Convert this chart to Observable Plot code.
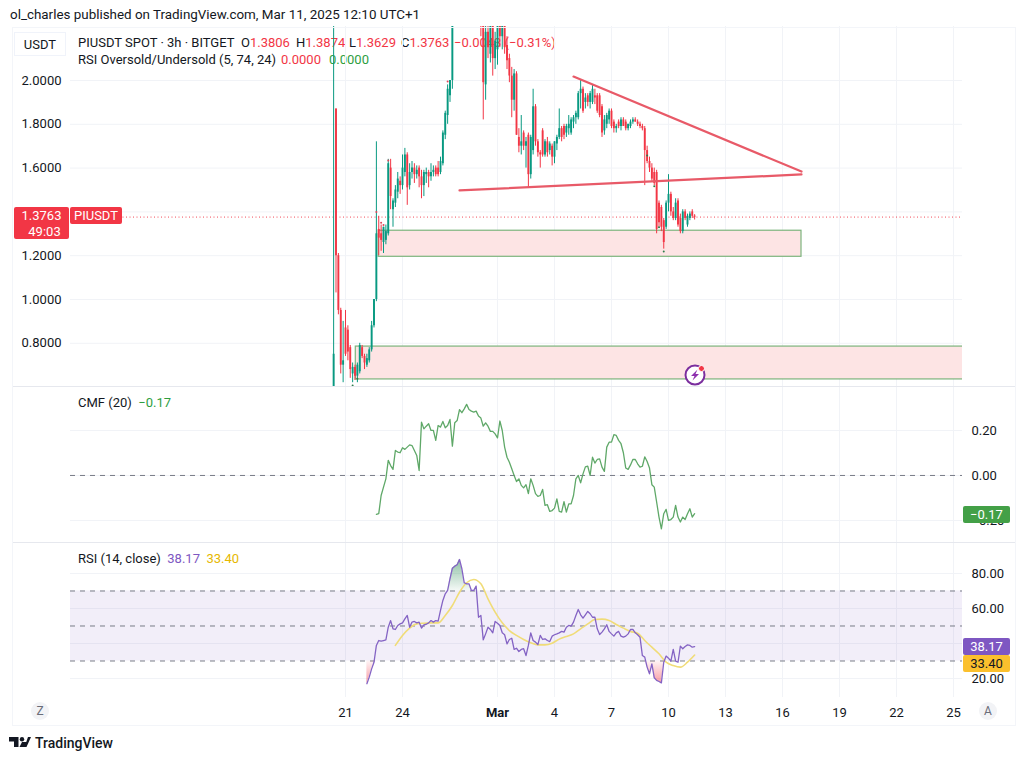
<!DOCTYPE html>
<html>
<head>
<meta charset="utf-8">
<script src="https://cdn.jsdelivr.net/npm/d3@7"></script>
<script src="https://cdn.jsdelivr.net/npm/@observablehq/plot@0.6"></script>
<style>
  html, body { margin: 0; background: #fff; }
  #page { position: relative; width: 1024px; height: 760px; overflow: hidden; font-family: Roboto, "Noto Sans", sans-serif; color: #131722; font-size: 13px; }
  .txt { position: absolute; white-space: pre; line-height: 16px; }
  .box { position: absolute; border-radius: 2px; color: #fff; text-align: center; }
  .sep { position: absolute; background: #e6e8ee; }
  .edge { position: absolute; background: #f3f5f9; }
  .red { color: #f23645; }
  .green { color: #2e9e3f; }
</style>
</head>
<body>
<div id="page"></div>
<script>
// Candles, 3h each, first one opens Feb 20 09:00
var firstCandle = Date.UTC(2025, 1, 20, 9);
var candleStep = 3 * 3600 * 1000;

var opens = [
  .60,1.87,1.20,.95,.70,.87,.86,.78,.66,.69,
  .65,.67,.78,.74,.70,.72,.77,.88,1.00,1.32,
  1.30,1.26,1.27,1.30,1.60,1.41,1.44,1.49,1.54,1.52,
  1.58,1.66,1.52,1.58,1.60,1.57,1.60,1.56,1.52,1.57,
  1.58,1.56,1.58,1.60,1.60,1.58,1.62,1.75,1.84,1.93,
  2.00,2.30,2.45,2.60,2.75,2.85,2.80,2.70,2.72,2.55,
  2.60,2.40,2.50,2.30,1.98,2.22,2.12,2.25,2.10,2.14,
  2.26,2.20,2.30,2.16,2.10,2.02,1.91,2.03,1.74,1.70,
  1.76,1.70,1.75,1.57,1.68,1.88,1.72,1.67,1.77,1.66,
  1.72,1.68,1.70,1.65,1.71,1.74,1.78,1.79,1.76,1.78,
  1.76,1.81,1.83,1.83,1.94,1.96,1.90,1.93,1.90,1.90,
  1.93,1.93,1.93,1.88,1.77,1.80,1.82,1.86,1.81,1.78,
  1.81,1.79,1.82,1.81,1.78,1.79,1.81,1.82,1.81,1.80,
  1.79,1.78,1.68,1.63,1.60,1.58,1.58,1.44,1.42,1.36,
  1.33,1.44,1.48,1.40,1.37,1.45,1.37,1.31,1.40,1.34,
  1.37,1.40,1.3806
];
var highs = [
  3.10,1.87,1.21,.96,.90,.95,.88,.79,.71,.70,
  .71,.80,.79,.75,.75,.78,.90,1.00,1.72,1.38,
  1.34,1.33,1.34,1.64,1.64,1.46,1.52,1.58,1.56,1.66,
  1.69,1.67,1.62,1.63,1.62,1.61,1.61,1.59,1.59,1.60,
  1.59,1.62,1.61,1.61,1.63,1.65,1.77,1.86,1.98,2.00,
  2.40,2.50,2.65,2.80,2.95,2.98,2.90,2.85,2.80,2.70,
  2.65,2.55,2.55,2.35,2.25,2.30,2.30,2.30,2.22,2.30,
  2.35,2.35,2.32,2.20,2.12,2.06,2.05,2.04,1.78,1.84,
  1.77,1.74,1.76,1.75,1.96,1.89,1.73,1.68,1.78,1.73,
  1.74,1.72,1.71,1.72,1.75,1.87,1.79,1.80,1.80,1.84,
  1.83,1.84,1.86,1.95,2.00,1.97,1.94,1.94,1.95,1.98,
  1.96,1.94,1.94,1.89,1.84,1.85,1.87,1.87,1.82,1.80,
  1.82,1.83,1.83,1.82,1.80,1.82,1.83,1.83,1.82,1.81,
  1.80,1.79,1.70,1.65,1.62,1.60,1.59,1.45,1.43,1.37,
  1.45,1.57,1.49,1.42,1.46,1.46,1.39,1.41,1.41,1.39,
  1.40,1.41,1.3874
];
var lows = [
  .60,1.03,.93,.66,.62,.74,.72,.64,.62,.63,
  .62,.66,.73,.68,.69,.71,.76,.87,.99,1.20,
  1.22,1.21,1.25,1.29,1.41,1.33,1.42,1.46,1.48,1.50,
  1.56,1.43,1.50,1.55,1.53,1.55,1.51,1.46,1.47,1.53,
  1.51,1.54,1.56,1.56,1.56,1.57,1.61,1.73,1.80,1.90,
  1.96,2.25,2.40,2.55,2.70,2.75,2.65,2.60,2.50,2.45,
  2.35,2.30,2.20,1.82,1.91,2.10,2.08,2.02,2.05,2.07,
  2.15,2.14,2.12,2.05,1.99,1.83,1.86,1.75,1.67,1.66,
  1.68,1.60,1.51,1.55,1.66,1.70,1.65,1.60,1.65,1.65,
  1.65,1.66,1.61,1.62,1.68,1.73,1.72,1.73,1.74,1.75,
  1.75,1.78,1.80,1.82,1.87,1.85,1.87,1.88,1.87,1.89,
  1.89,1.85,1.83,1.74,1.75,1.78,1.80,1.78,1.76,1.76,
  1.78,1.77,1.79,1.77,1.77,1.78,1.80,1.81,1.79,1.78,
  1.77,1.52,1.62,1.58,1.54,1.52,1.30,1.33,1.31,1.23,
  1.32,1.40,1.38,1.36,1.36,1.33,1.30,1.30,1.36,1.33,
  1.36,1.37,1.3629
];
var closes = [
  .75,1.20,.95,.70,.72,.75,.76,.68,.69,.65,
  .70,.79,.74,.71,.73,.77,.88,1.00,1.30,1.28,
  1.27,1.33,1.31,1.62,1.47,1.45,1.50,1.55,1.52,1.60,
  1.66,1.51,1.58,1.60,1.57,1.59,1.56,1.52,1.58,1.58,
  1.56,1.58,1.59,1.57,1.57,1.63,1.76,1.85,1.96,2.00,
  2.30,2.45,2.60,2.75,2.85,2.80,2.70,2.72,2.55,2.60,
  2.40,2.50,2.30,1.99,2.22,2.15,2.25,2.10,2.18,2.26,
  2.20,2.30,2.15,2.09,2.02,1.91,2.03,1.75,1.70,1.72,
  1.70,1.72,1.57,1.74,1.88,1.72,1.67,1.66,1.66,1.72,
  1.67,1.71,1.65,1.72,1.74,1.78,1.74,1.75,1.79,1.80,
  1.82,1.83,1.85,1.94,1.96,1.86,1.92,1.90,1.94,1.96,
  1.92,1.86,1.84,1.76,1.82,1.84,1.86,1.79,1.78,1.79,
  1.79,1.82,1.79,1.78,1.80,1.81,1.82,1.81,1.80,1.79,
  1.78,1.68,1.63,1.60,1.55,1.53,1.32,1.35,1.33,1.26,
  1.44,1.48,1.40,1.37,1.44,1.34,1.31,1.40,1.37,1.38,
  1.39,1.38,1.3763
];

// RSI Oversold/Undersold markers: candle index and price
var redMarkIdx = [18, 20, 21, 23, 48];
var redMarkPrice = [1.40, 1.35, 1.34, 1.635, 1.995];
var greenMarkIdx = [8, 10, 132, 135, 137, 139];
var greenMarkPrice = [.607, .638, 1.658, 1.517, 1.33, 1.219];

// CMF(20), last value sits on the last candle
var cmfValues = [
  -.173,-.170,-.089,-.052,-.015,.067,.044,.027,.111,.104,.101,.123,.116,.126,.136,.133,.111,.089,.022,
  .237,.207,.219,.230,.200,.200,.156,.222,.215,.240,.212,.222,.249,.130,.234,.244,.293,.279,.296,.316,
  .293,.286,.282,.286,.264,.255,.219,.234,.219,.196,.196,.185,.167,.242,.200,.126,.081,.059,.030,.000,
  -.027,-.015,-.044,-.055,-.041,-.081,-.015,-.044,-.081,-.093,-.089,-.062,-.133,-.130,-.160,-.156,-.145,-.104,-.160,-.163,
  -.116,-.163,-.126,-.126,-.089,-.015,.000,-.033,.007,.038,.041,.000,.081,.055,.071,.074,.037,.018,.126,.148,
  .148,.181,.178,.156,.141,.101,.033,.027,.047,.071,.071,.052,.037,.041,.083,.062,.033,-.041,-.052,-.118,
  -.185,-.237,-.170,-.151,-.200,-.196,-.185,-.133,-.185,-.207,-.185,-.196,-.170,-.148,-.185,-.17
];

// RSI(14), last value sits on the last candle
var rsiValues = [
  17.0,20.8,25.5,29.3,38.9,41.7,41.3,41.7,42.1,49.3,53.1,48.4,48.0,50.3,51.2,51.8,54.1,56.0,49.3,52.2,
  52.6,51.8,52.2,48.8,50.7,51.0,51.8,53.1,52.2,53.1,52.8,58.9,64.6,68.4,70.3,77.0,83.0,84.2,85.0,
  88.0,82.7,74.7,74.1,74.1,70.3,70.3,72.8,55.0,56.0,42.1,45.5,49.3,48.0,46.1,52.6,51.6,50.3,
  46.1,45.0,39.8,42.3,43.0,36.6,37.3,35.4,36.6,37.0,33.1,38.9,46.1,41.7,40.8,39.4,44.6,42.3,42.7,41.7,
  41.1,44.2,45.0,45.5,46.1,46.9,46.5,49.3,50.3,49.9,52.2,56.0,59.4,56.4,54.5,56.4,58.3,57.0,55.0,
  55.0,48.4,45.1,46.5,48.4,50.7,46.9,45.5,44.2,46.1,46.9,44.2,43.6,44.2,45.5,48.0,48.0,46.1,45.0,43.6,
  33.1,32.2,26.5,22.7,28.4,20.4,18.9,18.3,17.5,29.3,32.8,31.6,29.9,36.6,29.9,29.3,38.5,37.0,38.3,39.2,
  38.9,37.9,38.17
];

// RSI-based MA, read every third candle from candle 26 on
var rsiMaFirstIdx = 26;
var rsiMaStep = 3;
var rsiMaValues = [
  38.9,44.6,48.8,51.2,51.6,51.8,51.8,56.0,61.7,69.3,74.7,76.6,74.1,65.5,57.9,51.8,47.4,44.6,42.3,40.4,39.2,39.2,
  40.2,42.5,44.0,45.5,48.4,51.2,53.7,53.9,53.1,50.9,48.8,46.9,45.9,41.7,37.9,34.1,29.3,27.4,26.5,29.3,33.4
];

// Axis ticks
var priceTicks = [2.0, 1.8, 1.6, 1.4, 1.2, 1.0, 0.8];
var cmfTicks = [0.2, 0, -0.2];
var rsiTicks = [80, 60, 40, 20];
var rsiLevels = [70, 50, 30];
var timeTicks = [[1, 21], [1, 24], [2, 1], [2, 4], [2, 7], [2, 10], [2, 13], [2, 16], [2, 19], [2, 22], [2, 25]];
var timeLabels = ["21", "24", "Mar", "4", "7", "10", "13", "16", "19", "22", "25"];

// Drawings on the price panel
var lastPrice = 1.3763;
var zoneStart = [[1, 22, 18], [1, 21, 13]];
var zoneEnd = [[2, 17, 0], [3, 30, 0]];
var zoneTop = [1.314, 0.785];
var zoneBottom = [1.195, 0.635];
var resistanceDays = [[2, 5], [2, 17]];
var resistancePrices = [2.018, 1.584];
var supportDays = [[1, 27], [2, 17]];
var supportPrices = [1.498, 1.571];

var FRAME_L = 70, FRAME_R = 62;
var GRID = "#f1f3f7";
var FONT = 'Roboto, "Noto Sans", sans-serif';
var GREEN = "#089981", RED = "#f23645";

function utc(parts) {
  return new Date(Date.UTC(2025, parts[0], parts[1], parts[2] || 0));
}
function candleDate(i) {
  return new Date(firstCandle + i * candleStep);
}

var tickDates = timeTicks.map(utc);
var xScale = {
  domain: [utc([1, 21]), utc([2, 25])],
  range: [345, 953],
  axis: null
};

function basePlot(height, marginBottom, yDomain, marks) {
  return Plot.plot({
    width: 1024,
    height: height,
    marginLeft: FRAME_L,
    marginRight: FRAME_R,
    marginTop: 0,
    marginBottom: marginBottom,
    x: xScale,
    y: { domain: yDomain, axis: null },
    style: { background: "transparent", fontFamily: FONT, fontSize: "13px", color: "#131722", overflow: "visible" },
    marks: marks
  });
}

var candles = d3.range(opens.length).map(function(i) {
  return { date: candleDate(i), o: opens[i], h: highs[i], l: lows[i], c: closes[i], up: closes[i] >= opens[i] };
});
function candleColor(d) { return d.up ? GREEN : RED; }

var zones = zoneTop.map(function(t, i) {
  return { x1: utc(zoneStart[i]), x2: utc(zoneEnd[i]), y1: zoneBottom[i], y2: t };
});
var resistance = resistanceDays.map(function(d, i) { return { x: utc(d), y: resistancePrices[i] }; });
var support = supportDays.map(function(d, i) { return { x: utc(d), y: supportPrices[i] }; });
var redMarks = redMarkIdx.map(function(k, i) { return { x: candleDate(k), y: redMarkPrice[i] }; });
var greenMarks = greenMarkIdx.map(function(k, i) { return { x: candleDate(k), y: greenMarkPrice[i] }; });

var pricePlot = basePlot(360, 0, [0.6027, 2.2466], [
  Plot.gridY(priceTicks, { stroke: GRID, strokeOpacity: 1 }),
  Plot.gridX(tickDates, { stroke: GRID, strokeOpacity: 1 }),
  Plot.rect(zones, { x1: "x1", x2: "x2", y1: "y1", y2: "y2", fill: "#fde4e4", stroke: "#7db47d", strokeWidth: 1.2, clip: true }),
  Plot.ruleY([lastPrice], { stroke: RED, strokeDasharray: "1,2.5", strokeOpacity: 0.9 }),
  Plot.ruleX(candles, { x: "date", y1: "l", y2: "h", stroke: candleColor, strokeWidth: 1, clip: true }),
  Plot.ruleX(candles, { x: "date", y1: "o", y2: "c", stroke: candleColor, strokeWidth: 1.9, clip: true }),
  Plot.dot(redMarks, { x: "x", y: "y", r: 1, fill: "#e0455a" }),
  Plot.dot(greenMarks, { x: "x", y: "y", r: 1, fill: "#2e7d4a" }),
  Plot.line(resistance, { x: "x", y: "y", stroke: "#e85a68", strokeWidth: 2.2 }),
  Plot.line(support, { x: "x", y: "y", stroke: "#e85a68", strokeWidth: 2.2 }),
  Plot.axisY(priceTicks, { anchor: "left", tickSize: 0, tickPadding: 9, label: null, tickFormat: function(d) { return d.toFixed(4); } })
]);

var cmfOffset = opens.length - cmfValues.length;
var cmfData = cmfValues.map(function(v, i) { return { x: candleDate(i + cmfOffset), y: v }; });

var cmfPlot = basePlot(155, 0, [-0.298, 0.391], [
  Plot.gridY(cmfTicks, { stroke: GRID, strokeOpacity: 1 }),
  Plot.gridX(tickDates, { stroke: GRID, strokeOpacity: 1 }),
  Plot.ruleY([0], { stroke: "#787b86", strokeDasharray: "5,5", strokeWidth: 1 }),
  Plot.line(cmfData, { x: "x", y: "y", stroke: "#5fa868", strokeWidth: 1.3 }),
  Plot.axisY(cmfTicks, { anchor: "right", tickSize: 0, tickPadding: 9, label: null, tickFormat: function(d) { return d.toFixed(2).replace("-", "\u2212"); } })
]);

var rsiOffset = opens.length - rsiValues.length;
var rsiData = rsiValues.map(function(v, i) { return { x: candleDate(i + rsiOffset), y: v }; });
var rsiMa = rsiMaValues.map(function(v, i) { return { x: candleDate(rsiMaFirstIdx + i * rsiMaStep), y: v }; });

function gradientDefs() {
  var defs = d3.create("svg:defs");
  var up = defs.append("linearGradient").attr("id", "rsi-up").attr("x1", 0).attr("x2", 0).attr("y1", 0).attr("y2", 1);
  up.append("stop").attr("offset", 0).attr("stop-color", "#2e8b57").attr("stop-opacity", 0.55);
  up.append("stop").attr("offset", 1).attr("stop-color", "#2e8b57").attr("stop-opacity", 0.05);
  var down = defs.append("linearGradient").attr("id", "rsi-down").attr("x1", 0).attr("x2", 0).attr("y1", 0).attr("y2", 1);
  down.append("stop").attr("offset", 0).attr("stop-color", "#f23645").attr("stop-opacity", 0.05);
  down.append("stop").attr("offset", 1).attr("stop-color", "#f23645").attr("stop-opacity", 0.5);
  return defs.node();
}

var rsiPlot = basePlot(182, 28, [9.14, 97.14], [
  gradientDefs,
  Plot.gridY(rsiTicks, { stroke: GRID, strokeOpacity: 1 }),
  Plot.gridX(tickDates, { stroke: GRID, strokeOpacity: 1 }),
  Plot.rect([{ x1: utc([0, 1]), x2: utc([5, 1]), y1: rsiLevels[2], y2: rsiLevels[0] }], { x1: "x1", x2: "x2", y1: "y1", y2: "y2", fill: "#7e57c2", fillOpacity: 0.1, clip: true }),
  Plot.ruleY(rsiLevels, { stroke: "#787b86", strokeDasharray: "5,5", strokeWidth: 1 }),
  Plot.areaY(rsiData, { x: "x", y1: rsiLevels[0], y2: function(d) { return Math.max(d.y, rsiLevels[0]); }, fill: "url(#rsi-up)" }),
  Plot.areaY(rsiData, { x: "x", y1: rsiLevels[2], y2: function(d) { return Math.min(d.y, rsiLevels[2]); }, fill: "url(#rsi-down)" }),
  Plot.line(rsiMa, { x: "x", y: "y", stroke: "#f0dc78", strokeWidth: 1.6, curve: "monotone-x" }),
  Plot.line(rsiData, { x: "x", y: "y", stroke: "#8463c4", strokeWidth: 1.3 }),
  Plot.axisY(rsiTicks, { anchor: "right", tickSize: 0, tickPadding: 9, label: null, tickFormat: function(d) { return d.toFixed(2); } }),
  Plot.axisX(tickDates.filter(function(d, i) { return timeLabels[i] !== "Mar"; }), {
    anchor: "bottom", tickSize: 0, tickPadding: 10, label: null,
    tickFormat: function(d) { return timeLabels[tickDates.findIndex(function(t) { return +t === +d; })]; }
  }),
  Plot.axisX(tickDates.filter(function(d, i) { return timeLabels[i] === "Mar"; }), {
    anchor: "bottom", tickSize: 0, tickPadding: 10, label: null, fontWeight: 700,
    tickFormat: function() { return "Mar"; }
  })
]);

var page = document.getElementById("page");

function addText(html, left, top, style) {
  var el = document.createElement("div");
  el.className = "txt";
  el.innerHTML = html;
  el.style.left = left + "px";
  el.style.top = top + "px";
  if (style) el.style.cssText += style;
  page.appendChild(el);
  return el;
}
function addBox(text, left, top, width, height, bg, color) {
  var el = document.createElement("div");
  el.className = "box";
  el.innerHTML = text;
  el.style.cssText += "left:" + left + "px;top:" + top + "px;width:" + width + "px;height:" + height + "px;line-height:" + height + "px;background:" + bg + ";color:" + (color || "#fff");
  page.appendChild(el);
  return el;
}
function addLine(cls, left, top, width, height) {
  var el = document.createElement("div");
  el.className = cls;
  el.style.cssText += "left:" + left + "px;top:" + top + "px;width:" + width + "px;height:" + height + "px";
  page.appendChild(el);
}

addText("ol_charles published on TradingView.com, Mar 11, 2025 12:10 UTC+1", 10, 7, "font-size:13.4px;");

// Legends go under the plots so the candles cross them
addText("PIUSDT SPOT \u00b7 3h \u00b7 BITGET", 78, 35);
addText('O<span class="red">1.3806</span>', 241, 35);
addText('H<span class="red">1.3874</span>', 296, 35);
addText('L<span class="red">1.3629</span>', 349, 35);
addText('C<span class="red">1.3763</span>', 401, 35);
addText('<span class="red">\u22120.0043 (\u22120.31%)</span>', 454, 35);
addText("RSI Oversold/Undersold (5, 74, 24)", 78, 52);
addText('<span class="red">0.0000</span>', 281, 52);
addText('<span class="green">0.0000</span>', 329, 52);

function place(svg, top) {
  svg.style.position = "absolute";
  svg.style.left = "0px";
  svg.style.top = top + "px";
  page.appendChild(svg);
}
place(pricePlot, 26);
place(cmfPlot, 387);
place(rsiPlot, 543);

addLine("sep", 12, 386, 1003, 1);
addLine("sep", 12, 542, 1003, 1);
addLine("edge", 12, 725, 1003, 1);
addLine("edge", 12, 27, 1003, 1);
addLine("edge", 12, 27, 1, 699);
addLine("edge", 1015, 27, 1, 699);

// USDT scale button
addText("USDT", 14, 32, "width:52px;height:24px;line-height:24px;text-align:center;background:#fff;border:1px solid #f0f3fa;box-sizing:border-box;");

addText('CMF (20)  <span class="green">\u22120.17</span>', 78, 395);
addText('RSI (14, close)  <span style="color:#7e57c2">38.17</span>  <span style="color:#e6b800">33.40</span>', 78, 551);

// Last price labels
addBox('<div style="line-height:16px;padding-top:1px">1.3763<br><span style="padding-left:6px">49:03</span></div>', 14, 207, 55, 32, RED);
addBox("PIUSDT", 70, 207, 52, 17, RED);
addBox("\u22120.17", 963, 506, 47, 17, "#43a047");
addBox("38.17", 963, 638, 47, 17, "#7e57c2");
addBox("33.40", 963, 655, 47, 17, "#fbc02d", "#131722");

// Round buttons in the time axis row
[["Z", 31], ["A", 979]].forEach(function(b) {
  var el = addBox(b[0], b[1], 702, 18, 18, "#f2f3f6", "#6a6d78");
  el.style.borderRadius = "9px";
  el.style.fontSize = "12px";
});

// Alert icon and TradingView logo
var icon = document.createElement("div");
icon.style.cssText = "position:absolute;left:682px;top:362px;width:26px;height:26px;";
icon.innerHTML = '<svg width="26" height="26" viewBox="0 0 26 26">' +
  '<circle cx="13" cy="13" r="9.5" fill="#fff" stroke="#7b2e9e" stroke-width="2"/>' +
  '<path d="M15.5 7.5 L9 14 L12.5 14 L10.5 18.5 L17 12 L13.5 12 Z" fill="#8e2fae"/>' +
  '<circle cx="19.5" cy="6.5" r="3" fill="#f23645" stroke="#fff" stroke-width="1"/></svg>';
page.appendChild(icon);

var logo = document.createElement("div");
logo.style.cssText = "position:absolute;left:9px;top:736px;width:24px;height:13px;";
logo.innerHTML = '<svg width="24" height="13" viewBox="0 0 24 13">' +
  '<path d="M0 1 H9.5 V11 H5 V5.5 H0 Z" fill="#131722"/>' +
  '<circle cx="13" cy="3.2" r="2.2" fill="#131722"/>' +
  '<path d="M15.5 11 L19 1 H22 L17.5 11 Z" fill="#131722"/>' +
  '<path d="M10.5 11 L13 6 H19 L16.5 11 Z" fill="#131722"/></svg>';
page.appendChild(logo);
addText("TradingView", 35, 735, "font-size:14px;font-weight:500;");
</script>
</body>
</html>
